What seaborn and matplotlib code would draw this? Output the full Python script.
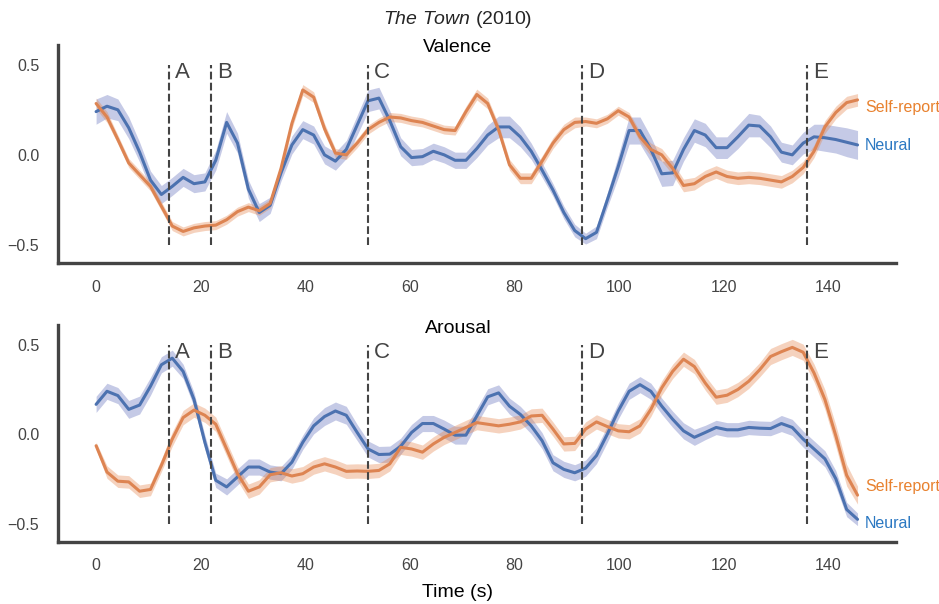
import numpy as np
import matplotlib
matplotlib.use("Agg")
import matplotlib.pyplot as plt
import seaborn as sns

# sample times (s), one sample every 2.08 s
time_s = np.arange(71) * 2.08

events = [14, 22, 52, 93, 136]
event_labels = ["A", "B", "C", "D", "E"]

# --- Valence ---
val_neural = [0.24, 0.27, 0.25, 0.15, 0.015, -0.14, -0.22, -0.175, -0.125, -0.16,
              -0.15, -0.03, 0.18, 0.065, -0.19, -0.32, -0.28, -0.10, 0.055, 0.14,
              0.11, 0.0, -0.035, 0.03, 0.165, 0.30, 0.315, 0.19, 0.045, -0.015,
              -0.01, 0.02, 0.0, -0.03, -0.03, 0.035, 0.11, 0.155, 0.155, 0.10,
              0.02, -0.085, -0.195, -0.32, -0.42, -0.465, -0.43, -0.25, -0.065, 0.135,
              0.135, 0.03, -0.105, -0.10, 0.03, 0.135, 0.11, 0.04, 0.04, 0.10,
              0.165, 0.16, 0.10, 0.015, 0.0, 0.065, 0.10, 0.095, 0.085, 0.07, 0.055]
val_neural_sem = [0.07, 0.065, 0.06, 0.06, 0.055, 0.05, 0.05, 0.05, 0.05, 0.05,
                  0.05, 0.055, 0.06, 0.055, 0.05, 0.05, 0.045, 0.045, 0.05, 0.05,
                  0.05, 0.05, 0.05, 0.05, 0.055, 0.06, 0.06, 0.055, 0.05, 0.045,
                  0.045, 0.045, 0.045, 0.045, 0.045, 0.05, 0.055, 0.06, 0.06, 0.055,
                  0.045, 0.04, 0.035, 0.035, 0.035, 0.03, 0.035, 0.04, 0.06, 0.075,
                  0.075, 0.07, 0.07, 0.07, 0.065, 0.065, 0.065, 0.06, 0.06, 0.065,
                  0.065, 0.06, 0.06, 0.055, 0.055, 0.06, 0.07, 0.075, 0.075, 0.08, 0.08]
val_self = [0.285, 0.21, 0.085, -0.045, -0.11, -0.175, -0.285, -0.395, -0.425, -0.405,
            -0.395, -0.39, -0.36, -0.315, -0.29, -0.31, -0.27, -0.075, 0.175, 0.36,
            0.32, 0.145, 0.01, 0.0, 0.065, 0.14, 0.18, 0.21, 0.205, 0.19,
            0.18, 0.16, 0.14, 0.135, 0.24, 0.335, 0.285, 0.14, -0.055, -0.13,
            -0.13, -0.035, 0.065, 0.14, 0.18, 0.185, 0.175, 0.2, 0.245, 0.21,
            0.10, 0.03, 0.0, -0.075, -0.17, -0.16, -0.12, -0.095, -0.12, -0.13,
            -0.125, -0.13, -0.14, -0.15, -0.12, -0.07, 0.02, 0.155, 0.235, 0.29, 0.305]
val_self_sem = [0.03, 0.03, 0.025, 0.025, 0.025, 0.025, 0.025, 0.025, 0.025, 0.025,
                0.025, 0.025, 0.025, 0.025, 0.025, 0.025, 0.025, 0.03, 0.03, 0.03,
                0.03, 0.03, 0.025, 0.025, 0.025, 0.025, 0.025, 0.025, 0.025, 0.025,
                0.025, 0.025, 0.025, 0.025, 0.03, 0.03, 0.03, 0.03, 0.03, 0.03,
                0.03, 0.03, 0.03, 0.03, 0.03, 0.025, 0.025, 0.025, 0.025, 0.025,
                0.03, 0.035, 0.035, 0.035, 0.035, 0.035, 0.035, 0.035, 0.035, 0.035,
                0.035, 0.035, 0.035, 0.035, 0.035, 0.035, 0.035, 0.035, 0.035, 0.035, 0.035]

# --- Arousal ---
aro_neural = [0.167, 0.24, 0.216, 0.139, 0.163, 0.268, 0.388, 0.425, 0.351, 0.194,
              -0.045, -0.257, -0.294, -0.238, -0.183, -0.183, -0.211, -0.22, -0.156, -0.045,
              0.047, 0.099, 0.13, 0.106, 0.01, -0.082, -0.113, -0.111, -0.067, 0.01,
              0.06, 0.06, 0.029, -0.005, -0.005, 0.102, 0.209, 0.231, 0.157, 0.111,
              0.047, -0.036, -0.159, -0.196, -0.215, -0.189, -0.119, 0.001, 0.13, 0.24,
              0.277, 0.24, 0.157, 0.084, 0.019, -0.017, 0.01, 0.038, 0.025, 0.025,
              0.038, 0.034, 0.032, 0.06, 0.038, -0.027, -0.082, -0.137, -0.248, -0.42, -0.475]
aro_neural_sem = [0.045, 0.045, 0.045, 0.05, 0.05, 0.05, 0.045, 0.045, 0.04, 0.04,
                  0.04, 0.04, 0.045, 0.045, 0.045, 0.045, 0.04, 0.04, 0.04, 0.04,
                  0.045, 0.05, 0.05, 0.05, 0.045, 0.045, 0.045, 0.045, 0.045, 0.045,
                  0.045, 0.045, 0.05, 0.05, 0.05, 0.045, 0.045, 0.045, 0.045, 0.045,
                  0.045, 0.045, 0.045, 0.045, 0.045, 0.045, 0.045, 0.045, 0.045, 0.045,
                  0.045, 0.045, 0.045, 0.045, 0.045, 0.045, 0.04, 0.04, 0.04, 0.04,
                  0.04, 0.04, 0.04, 0.045, 0.045, 0.045, 0.045, 0.045, 0.045, 0.04, 0.035]
aro_self = [-0.064, -0.211, -0.262, -0.266, -0.318, -0.308, -0.174, -0.027, 0.093, 0.135,
            0.106, 0.056, -0.082, -0.22, -0.318, -0.294, -0.226, -0.215, -0.233, -0.22,
            -0.183, -0.165, -0.183, -0.207, -0.205, -0.207, -0.202, -0.165, -0.073, -0.082,
            -0.1, -0.054, -0.017, 0.01, 0.038, 0.065, 0.056, 0.047, 0.056, 0.069,
            0.102, 0.106, 0.029, -0.054, -0.051, 0.029, 0.069, 0.043, 0.019, 0.014,
            0.047, 0.139, 0.259, 0.351, 0.419, 0.378, 0.286, 0.207, 0.218, 0.25,
            0.296, 0.36, 0.434, 0.461, 0.485, 0.458, 0.342, 0.194, -0.008, -0.229, -0.34]
aro_self_sem = [0.02, 0.035, 0.035, 0.035, 0.035, 0.035, 0.035, 0.04, 0.04, 0.04,
                0.04, 0.04, 0.04, 0.04, 0.04, 0.04, 0.04, 0.04, 0.04, 0.04,
                0.04, 0.04, 0.04, 0.04, 0.04, 0.04, 0.04, 0.04, 0.04, 0.04,
                0.04, 0.04, 0.04, 0.04, 0.04, 0.04, 0.04, 0.04, 0.04, 0.04,
                0.04, 0.04, 0.04, 0.04, 0.04, 0.04, 0.04, 0.04, 0.04, 0.04,
                0.04, 0.04, 0.04, 0.04, 0.04, 0.04, 0.04, 0.04, 0.04, 0.04,
                0.04, 0.04, 0.045, 0.045, 0.045, 0.045, 0.05, 0.055, 0.06, 0.06, 0.05]

# label y positions for the line-end annotations (self-report, neural)
end_label_y = {"Valence": (0.265, 0.05), "Arousal": (-0.29, -0.5)}

NEURAL = "#4c72b0"
SELF = "#dd8452"
GREY = "#444444"

sns.set_theme(style="white")
plt.rcParams["font.family"] = ["Liberation Sans", "DejaVu Sans"]
plt.rcParams["mathtext.fontset"] = "custom"
plt.rcParams["mathtext.it"] = "Liberation Sans:italic"
plt.rcParams["mathtext.rm"] = "Liberation Sans"

fig = plt.figure(figsize=(9.39, 6.04), dpi=100)
ax_top = fig.add_axes([0.0618, 0.5646, 0.892, 0.361])
ax_bot = fig.add_axes([0.0618, 0.1031, 0.892, 0.3588])

panels = [
    (ax_top, "Valence", val_neural, val_neural_sem, val_self, val_self_sem),
    (ax_bot, "Arousal", aro_neural, aro_neural_sem, aro_self, aro_self_sem),
]

for ax, name, neu, neu_sem, slf, slf_sem in panels:
    neu = np.array(neu)
    slf = np.array(slf)
    ax.fill_between(time_s, neu - np.array(neu_sem), neu + np.array(neu_sem),
                    color="#5b67b8", alpha=0.35, lw=0)
    ax.fill_between(time_s, slf - np.array(slf_sem), slf + np.array(slf_sem),
                    color="#e58045", alpha=0.35, lw=0)
    sns.lineplot(x=time_s, y=neu, ax=ax, color=NEURAL, lw=2.2)
    sns.lineplot(x=time_s, y=slf, ax=ax, color=SELF, lw=2.2)

    ax.vlines(events, -0.5, 0.5, colors=GREY, linestyles="--", lw=1.5)
    for ev, lab in zip(events, event_labels):
        ax.text(ev + 1.1, 0.455, lab, fontsize=16, color=GREY, va="center", ha="left")

    y_self, y_neu = end_label_y[name]
    ax.text(147, y_self, "Self-report", color="#e8812e", fontsize=11.5, va="center")
    ax.text(147, y_neu, "Neural", color="#2b78c2", fontsize=11.5, va="center")

    ax.set_ylim(-0.6, 0.61)
    ax.set_yticks([-0.5, 0.0, 0.5])
    ax.set_xticks(np.arange(0, 141, 20))
    # panel title sits just over the top of the y spine
    ax.text(0.4775, 0.986, name, transform=ax.transAxes, fontsize=14,
            color="black", ha="center", va="center")
    ax.tick_params(axis="x", length=0, pad=12, labelsize=11.5, labelcolor=GREY)
    ax.tick_params(axis="y", length=0, pad=13.5, labelsize=11.5, labelcolor=GREY)
    for side in ["left", "bottom"]:
        ax.spines[side].set_linewidth(2.4)
        ax.spines[side].set_color(GREY)
    sns.despine(ax=ax)

ax_bot.set_xlabel("Time (s)", fontsize=14, color="black", va="center")
ax_bot.xaxis.set_label_coords(0.4775, -0.232)
fig.text(458 / 939, 1 - 20 / 604, r"$\it{The\ Town}$ (2010)", fontsize=14,
         ha="center", va="center")

fig.savefig("out.png", dpi=100)
